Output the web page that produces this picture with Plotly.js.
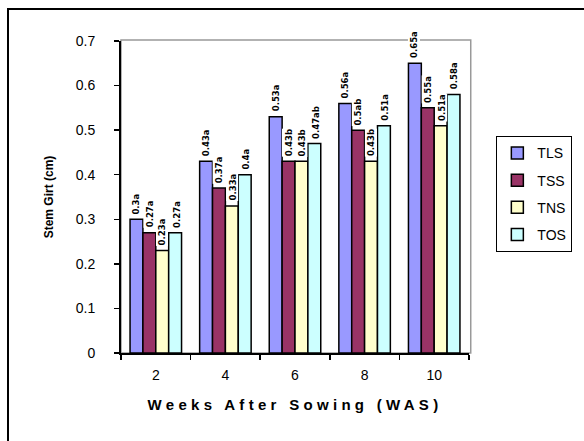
<!DOCTYPE html>
<html>
<head>
<meta charset="utf-8">
<script src="https://cdn.plot.ly/plotly-3.0.1.min.js"></script>
<style>
  html, body { margin: 0; padding: 0; background: #fff; }
  #wrap { position: relative; width: 584px; height: 441px; overflow: hidden; }
  #chart { width: 584px; height: 441px; }
  #frame { position: absolute; left: 7px; top: 8px; width: 640px; height: 500px;
           border: 2px solid #000; pointer-events: none; box-sizing: border-box; }
  .g-xtitle text { letter-spacing: 4.3px; }
</style>
</head>
<body>
<div id="wrap">
  <div id="chart"></div>
  <div id="frame"></div>
</div>
<script>
const weeks = ['2', '4', '6', '8', '10'];
const seriesNames = ['TLS', 'TSS', 'TNS', 'TOS'];
const TLS = [0.30, 0.43, 0.53, 0.56, 0.65];
const TSS = [0.27, 0.37, 0.43, 0.50, 0.55];
const TNS = [0.23, 0.33, 0.43, 0.43, 0.51];
const TOS = [0.27, 0.40, 0.47, 0.51, 0.58];
const TLS_labels = ['0.3a', '0.43a', '0.53a', '0.56a', '0.65a'];
const TSS_labels = ['0.27a', '0.37a', '0.43b', '0.5ab', '0.55a'];
const TNS_labels = ['0.23a', '0.33a', '0.43b', '0.43b', '0.51a'];
const TOS_labels = ['0.27a', '0.4a', '0.47ab', '0.51a', '0.58a'];
const colors = ['#9999FF', '#993366', '#FFFFCC', '#CCFFFF'];

const values = [TLS, TSS, TNS, TOS];
const labels = [TLS_labels, TSS_labels, TNS_labels, TOS_labels];

const W = 584, H = 441;
const margin = { l: 121, r: 103, t: 41, b: 88 };
const bargap = 0.26;

const traces = seriesNames.map((name, i) => ({
  type: 'bar',
  name: name,
  x: weeks,
  y: values[i],
  legendgroup: name,
  marker: { color: colors[i], line: { color: '#000', width: 1.5 } },
  hoverinfo: 'none'
}));

// value labels: rotated, placed above each bar using the group layout
const plotW = W - margin.l - margin.r;
const barPx = (plotW / weeks.length) * (1 - bargap) / seriesNames.length;
const annotations = [];
seriesNames.forEach((name, i) => {
  weeks.forEach((wk, j) => {
    annotations.push({
      x: j, y: values[i][j], xref: 'x', yref: 'y',
      text: labels[i][j], textangle: -90, showarrow: false,
      xanchor: 'center', yanchor: 'bottom',
      xshift: (i - (seriesNames.length - 1) / 2) * barPx, yshift: 4,
      bgcolor: '#fff', borderpad: 0,
      font: { family: 'Liberation Sans Narrow, Arial Narrow, DejaVu Sans Condensed, sans-serif', size: 9.5, color: '#000', weight: 'bold' }
    });
  });
});

const layout = {
  width: W,
  height: H,
  margin: margin,
  paper_bgcolor: '#fff',
  plot_bgcolor: '#fff',
  font: { family: 'Liberation Sans, Arial, sans-serif', color: '#000' },
  barmode: 'group',
  bargap: bargap,
  bargroupgap: 0,
  showlegend: true,
  legend: {
    x: 1.078, y: 0.695, xanchor: 'left', yanchor: 'top',
    bordercolor: '#000', borderwidth: 1.2, bgcolor: '#fff',
    font: { size: 14, color: '#000' },
    traceorder: 'grouped', tracegroupgap: 6,
    itemwidth: 30
  },
  xaxis: {
    type: 'category',
    range: [-0.5, weeks.length - 0.5],
    showline: true, linecolor: '#000', linewidth: 2,
    ticks: 'outside', tickson: 'boundaries', ticklen: 5, tickcolor: '#000', tickwidth: 1.5,
    tickfont: { size: 14, color: '#000' },
    ticklabelstandoff: 8,
    showgrid: false, zeroline: false,
    title: { text: 'Weeks After Sowing (WAS)', font: { size: 15, color: '#000', weight: 'bold' }, standoff: 18 }
  },
  yaxis: {
    range: [0, 0.7], dtick: 0.1, tick0: 0,
    showline: true, linecolor: '#000', linewidth: 2,
    ticks: 'outside', ticklen: 5, tickcolor: '#000', tickwidth: 1.5,
    tickfont: { size: 14, color: '#000' },
    ticklabelstandoff: 16,
    showgrid: false, zeroline: false,
    title: { text: 'Stem Girt (cm)', font: { size: 12, color: '#000', weight: 'bold' }, standoff: 20 }
  },
  annotations: annotations,
  shapes: [
    { type: 'rect', xref: 'paper', yref: 'paper', x0: 0, x1: 1.005, y0: 0, y1: 1.003,
      line: { color: '#999', width: 1.5 }, fillcolor: 'rgba(0,0,0,0)', layer: 'below' }
  ]
};

Plotly.newPlot('chart', traces, layout, { displayModeBar: false, staticPlot: true });
</script>
</body>
</html>
